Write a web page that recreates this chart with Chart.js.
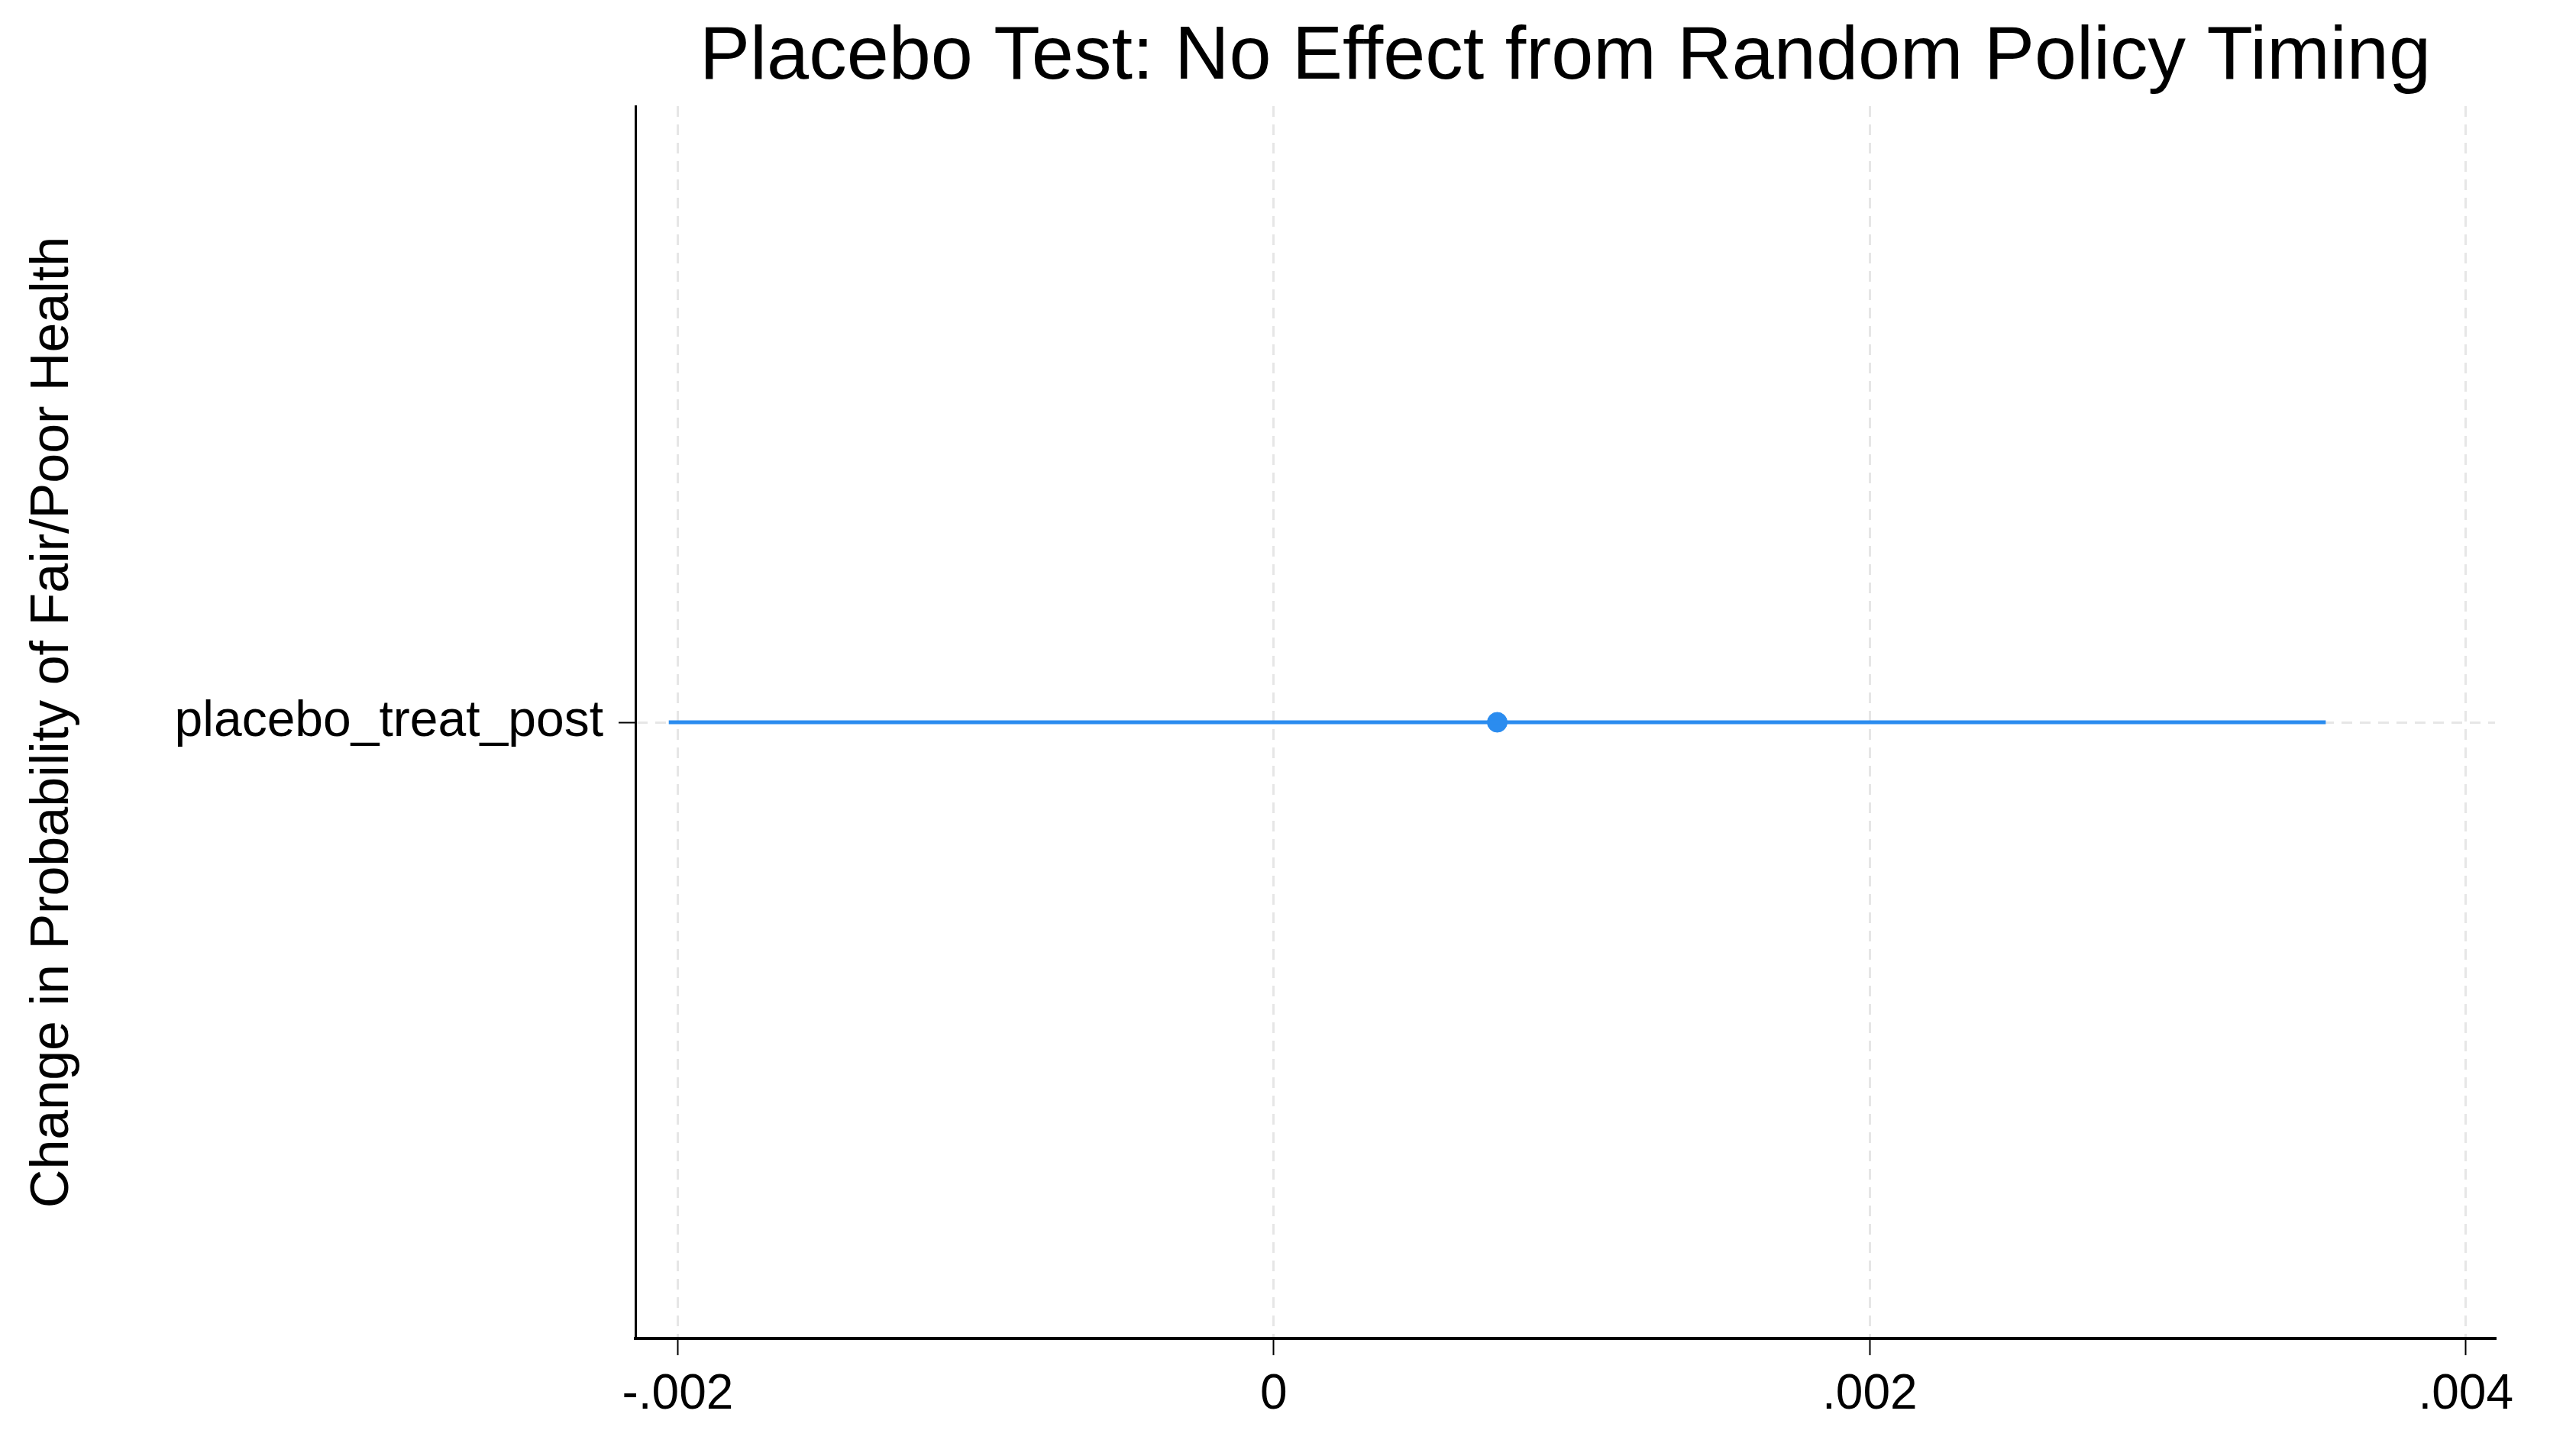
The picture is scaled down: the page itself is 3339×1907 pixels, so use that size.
<!DOCTYPE html>
<html><head><meta charset="utf-8">
<script src="https://cdn.jsdelivr.net/npm/chart.js@4"></script>
<style>html,body{margin:0;padding:0;background:#fff}#w{width:3339px;height:1907px}</style>
</head><body><div id="w"><canvas id="c"></canvas></div>
<script>
const titleText = "Placebo Test: No Effect from Random Policy Timing";
const yTitle = "Change in Probability of Fair/Poor Health";
const categories = ["placebo_treat_post"];
const estimates = [0.00075];
const ciLow = [-0.00203];
const ciHigh = [0.00353];
const xTicks = [-0.002, 0, 0.002, 0.004];
const xTickLabels = ["-.002", "0", ".002", ".004"];

const FONT = "'Liberation Sans', Arial, sans-serif";
const BLUE = "#2b8cef";

const titlePlugin = {
  id: 'tp',
  afterDraw(chart) {
    const ctx = chart.ctx, a = chart.chartArea;
    ctx.save();
    ctx.font = "99px " + FONT;
    ctx.fillStyle = "#000";
    ctx.textAlign = "center";
    ctx.textBaseline = "middle";
    ctx.fillText(titleText, (a.left + a.right) / 2, 76);
    ctx.restore();
  }
};

const ciData = [];
categories.forEach((c, i) => {
  ciData.push({x: ciLow[i], y: i + 1});
  ciData.push({x: ciHigh[i], y: i + 1});
  ciData.push({x: null, y: null});
});

new Chart(document.getElementById('c'), {
  type: 'scatter',
  data: {
    datasets: [
      {data: ciData, showLine: true, borderColor: BLUE, borderWidth: 5, pointRadius: 0, spanGaps: false},
      {data: categories.map((c, i) => ({x: estimates[i], y: i + 1})), backgroundColor: BLUE, borderColor: BLUE, pointRadius: 13}
    ]
  },
  plugins: [titlePlugin],
  options: {
    responsive: true, maintainAspectRatio: false, animation: false,
    devicePixelRatio: 1,
    layout: {padding: {top: 139, right: 72, left: 0, bottom: 0}},
    plugins: {legend: {display: false}, tooltip: {enabled: false}},
    scales: {
      x: {
        type: 'linear', min: -0.002142, max: 0.004098,
        afterBuildTicks: s => { s.ticks = xTicks.map(v => ({value: v})); },
        afterFit: s => { s.height = 154; },
        ticks: {font: {size: 64, family: FONT}, color: '#000', padding: 14,
          maxRotation: 0, callback: (v) => xTickLabels[xTicks.indexOf(v)] ?? ''},
        grid: {color: '#e6e6e6', lineWidth: 3, tickColor: '#000', tickLength: 22, tickWidth: 2, drawOnChartArea: true},
        border: {display: true, color: '#000', width: 4, dash: [14, 10]}
      },
      y: {
        type: 'linear', min: 0, max: categories.length + 1,
        afterBuildTicks: s => { s.ticks = categories.map((c, i) => ({value: i + 1})); },
        afterFit: s => { s.width = 832; },
        ticks: {font: {size: 66, family: FONT}, color: '#000', padding: 20,
          callback: v => categories[v - 1] ?? ''},
        grid: {color: '#e6e6e6', lineWidth: 3, tickColor: '#000', tickLength: 22, tickWidth: 2},
        border: {display: true, color: '#000', width: 3, dash: [14, 10]},
        title: {display: true, text: yTitle, font: {size: 70, family: FONT}, color: '#000', padding: {top: 28, bottom: 0}}
      }
    }
  }
});
</script></body></html>
